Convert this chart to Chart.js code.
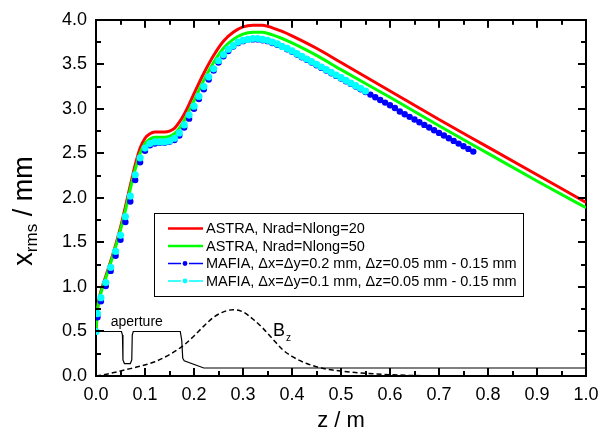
<!DOCTYPE html>
<html><head><meta charset="utf-8">
<script src="https://cdn.jsdelivr.net/npm/chart.js@4/dist/chart.umd.min.js"></script>
<style>html,body{margin:0;padding:0;background:#fff;} canvas{display:block;}</style>
</head><body>
<canvas id="c" width="615" height="435" style="width:615px;height:435px"></canvas>
<script>
// ---- data ----
const lineZ = [0, 0.003, 0.01, 0.02, 0.03, 0.04, 0.05, 0.06, 0.07, 0.08, 0.09, 0.10, 0.11, 0.12, 0.13, 0.14, 0.15, 0.16, 0.17, 0.18, 0.19, 0.20, 0.22, 0.24, 0.26, 0.28, 0.30, 0.32, 0.34, 0.36, 0.38, 0.40, 0.45, 0.50, 0.60, 0.70, 0.80, 0.90, 1.00];
const astra20 = [0.50, 0.75, 0.95, 1.12, 1.29, 1.47, 1.67, 1.90, 2.14, 2.37, 2.56, 2.67, 2.72, 2.74, 2.74, 2.74, 2.75, 2.78, 2.85, 2.94, 3.05, 3.17, 3.40, 3.60, 3.76, 3.86, 3.92, 3.94, 3.94, 3.91, 3.87, 3.82, 3.68, 3.52, 3.20, 2.88, 2.57, 2.26, 1.95];
const astra50 = [0.50, 0.74, 0.93, 1.10, 1.27, 1.45, 1.64, 1.86, 2.10, 2.32, 2.50, 2.61, 2.66, 2.68, 2.68, 2.68, 2.69, 2.72, 2.78, 2.87, 2.98, 3.09, 3.32, 3.52, 3.68, 3.78, 3.84, 3.86, 3.86, 3.83, 3.79, 3.74, 3.60, 3.44, 3.13, 2.81, 2.50, 2.19, 1.89];
const mafiaZ = [0, 0.003, 0.01, 0.02, 0.03, 0.04, 0.05, 0.06, 0.07, 0.08, 0.09, 0.10, 0.11, 0.12, 0.13, 0.14, 0.15, 0.16, 0.17, 0.18, 0.19, 0.20, 0.21, 0.22, 0.23, 0.24, 0.25, 0.26, 0.27, 0.28, 0.29, 0.30, 0.31, 0.32, 0.33, 0.34, 0.35, 0.36, 0.37, 0.38, 0.39, 0.40, 0.41, 0.42, 0.43, 0.44, 0.45, 0.46, 0.47, 0.48, 0.49, 0.50, 0.51, 0.52, 0.53, 0.54, 0.55, 0.56, 0.57, 0.58, 0.59, 0.60, 0.61, 0.62, 0.63, 0.64, 0.65, 0.66, 0.67, 0.68, 0.69, 0.70, 0.71, 0.72, 0.73, 0.74, 0.75, 0.76, 0.77];
const mafia02 = [0.50, 0.66, 0.84, 1.01, 1.18, 1.35, 1.53, 1.73, 1.96, 2.20, 2.40, 2.53, 2.59, 2.61, 2.62, 2.62, 2.63, 2.65, 2.70, 2.79, 2.89, 3.00, 3.11, 3.22, 3.33, 3.43, 3.52, 3.59, 3.65, 3.70, 3.74, 3.76, 3.78, 3.78, 3.78, 3.77, 3.76, 3.74, 3.72, 3.70, 3.67, 3.64, 3.61, 3.58, 3.55, 3.52, 3.49, 3.46, 3.43, 3.40, 3.37, 3.34, 3.31, 3.28, 3.25, 3.22, 3.19, 3.16, 3.13, 3.10, 3.07, 3.04, 3.01, 2.97, 2.94, 2.91, 2.88, 2.85, 2.82, 2.79, 2.76, 2.73, 2.70, 2.67, 2.64, 2.61, 2.58, 2.55, 2.52];
const mafia01 = [0.50, 0.70, 0.88, 1.05, 1.22, 1.40, 1.58, 1.79, 2.02, 2.26, 2.45, 2.56, 2.61, 2.63, 2.63, 2.63, 2.64, 2.67, 2.73, 2.82, 2.93, 3.03, 3.14, 3.25, 3.36, 3.45, 3.54, 3.61, 3.67, 3.71, 3.75, 3.77, 3.78, 3.79, 3.79, 3.78, 3.77, 3.75, 3.73, 3.70, 3.68, 3.65, 3.62, 3.59, 3.56, 3.53, 3.50, 3.47, 3.44, 3.41, 3.38, 3.35, 3.32, 3.29, 3.26, 3.23, 3.20];
const apertureZ = [0, 0.052, 0.054, 0.055, 0.058, 0.070, 0.073, 0.074, 0.076, 0.172, 0.175, 0.177, 0.180, 0.220, 1.0];
const apertureR = [0.50, 0.50, 0.46, 0.18, 0.14, 0.14, 0.18, 0.46, 0.50, 0.50, 0.40, 0.20, 0.17, 0.09, 0.09];
const bzZ = [0, 0.03, 0.06, 0.09, 0.12, 0.15, 0.18, 0.20, 0.22, 0.24, 0.26, 0.28, 0.30, 0.32, 0.34, 0.36, 0.38, 0.40, 0.43, 0.46, 0.50, 0.55, 0.60, 0.65, 0.70];
const bzVal = [0, 0.03, 0.07, 0.11, 0.16, 0.24, 0.35, 0.45, 0.56, 0.66, 0.72, 0.745, 0.72, 0.64, 0.54, 0.42, 0.30, 0.22, 0.14, 0.09, 0.055, 0.03, 0.015, 0.005, 0.0];
const seriesLabels = ['ASTRA, Nrad=Nlong=20', 'ASTRA, Nrad=Nlong=50', 'MAFIA, \u0394x=\u0394y=0.2 mm, \u0394z=0.05 mm - 0.15 mm', 'MAFIA, \u0394x=\u0394y=0.1 mm, \u0394z=0.05 mm - 0.15 mm'];
const xTickValues = [0, 0.05, 0.1, 0.15, 0.2, 0.25, 0.3, 0.35, 0.4, 0.45, 0.5, 0.55, 0.6, 0.65, 0.7, 0.75, 0.8, 0.85, 0.9, 0.95, 1.0];
const yTickValues = [0, 0.25, 0.5, 0.75, 1.0, 1.25, 1.5, 1.75, 2.0, 2.25, 2.5, 2.75, 3.0, 3.25, 3.5, 3.75, 4.0];
const xTickLabels = ['0.0', '0.1', '0.2', '0.3', '0.4', '0.5', '0.6', '0.7', '0.8', '0.9', '1.0'];
const yTickLabels = ['0.0', '0.5', '1.0', '1.5', '2.0', '2.5', '3.0', '3.5', '4.0'];

// ---- helpers ----
function pts(xs, ys) { return ys.map((y, i) => ({ x: xs[i], y: y })); }
const isMajX = v => Math.abs(v * 10 - Math.round(v * 10)) < 1e-6;
const isMajY = v => Math.abs(v * 2 - Math.round(v * 2)) < 1e-6;
const MAJ = 8, MIN = 5;
const FONT = '"Liberation Sans", Arial, sans-serif';
const border = { display: true, width: 2, color: '#000' };
const noGrid = { display: false, drawTicks: false, drawOnChartArea: false };

// inward major/minor tick marks on all four sides, positioned by the chart's scales
function paintTicks(chart) {
  const c = chart.ctx, a = chart.chartArea, xs = chart.scales.x, ys = chart.scales.y;
  const L = a.left, R = a.right, T = a.top, B = a.bottom;
  c.save();
  c.fillStyle = '#000000';
  for (let i = 0; i < xTickValues.length; i++) {
    const v = xTickValues[i];
    const p = Math.round(xs.getPixelForValue(v)), len = isMajX(v) ? MAJ : MIN;
    c.fillRect(p - 1, B - len, 2, len);
    c.fillRect(p - 1, T, 2, len);
  }
  for (let i = 0; i < yTickValues.length; i++) {
    const v = yTickValues[i];
    const p = Math.round(ys.getPixelForValue(v)), len = isMajY(v) ? MAJ : MIN;
    c.fillRect(L, p - 1, len, 2);
    c.fillRect(R - len, p - 1, len, 2);
  }
  c.restore();
}

const deco = {
  id: 'deco',
  afterDraw(chart) {
    paintTicks(chart);
    const c = chart.ctx, xs = chart.scales.x, ys = chart.scales.y, a = chart.chartArea;
    c.save();
    // legend
    c.lineWidth = 1; c.strokeStyle = '#000'; c.setLineDash([]);
    c.strokeRect(154.5, 213.5, 369, 83);
    const rows = [228.5, 246, 263.5, 281];
    for (let i = 0; i < 4; i++) {
      const ds = chart.data.datasets[i], y = rows[i];
      c.strokeStyle = ds.borderColor; c.fillStyle = ds.borderColor;
      c.beginPath();
      if (i < 2) {
        c.lineWidth = 2.5; c.moveTo(168, y); c.lineTo(203, y); c.stroke();
      } else {
        c.lineWidth = 1.5; c.moveTo(168, y); c.lineTo(181, y); c.moveTo(189, y); c.lineTo(203, y); c.stroke();
        c.beginPath(); c.arc(185, y, 2.4, 0, Math.PI * 2); c.fill();
      }
      c.fillStyle = '#000'; c.font = '14.5px ' + FONT; c.textBaseline = 'middle'; c.textAlign = 'left';
      c.fillText(ds.label, 206, y + 0.5);
    }
    // annotations
    c.fillStyle = '#000'; c.textBaseline = 'middle'; c.textAlign = 'left';
    c.font = '14px ' + FONT;
    c.fillText('aperture', xs.getPixelForValue(0.03), ys.getPixelForValue(0.61));
    c.font = '18px ' + FONT;
    const bx = xs.getPixelForValue(0.361), by = ys.getPixelForValue(0.51);
    c.fillText('B', bx, by);
    const bw = c.measureText('B').width;
    c.font = '10px ' + FONT;
    c.fillText('z', bx + bw + 1, by + 8);
    // x title
    c.font = '22px ' + FONT; c.textAlign = 'center'; c.textBaseline = 'middle';
    c.fillText('z / m', (a.left + a.right) / 2, 421);
    // y title (rotated, with subscript)
    c.translate(32, 211); c.rotate(-Math.PI / 2);
    c.textAlign = 'left'; c.textBaseline = 'alphabetic';
    c.font = '27px ' + FONT; const w1 = c.measureText('x').width;
    c.font = '17px ' + FONT; const w2 = c.measureText('rms').width;
    c.font = '27px ' + FONT; const w3 = c.measureText(' / mm').width;
    let x0 = -(w1 + w2 + w3) / 2;
    c.fillText('x', x0, 0);
    c.font = '17px ' + FONT; c.fillText('rms', x0 + w1, 5);
    c.font = '27px ' + FONT; c.fillText(' / mm', x0 + w1 + w2, 0);
    c.restore();
  }
};

new Chart(document.getElementById('c'), {
  type: 'line',
  data: {
    datasets: [
      { label: seriesLabels[0], data: pts(lineZ, astra20), borderColor: '#ff0000', backgroundColor: '#ff0000', borderWidth: 3, pointRadius: 0, cubicInterpolationMode: 'monotone', fill: false, order: 4 },
      { label: seriesLabels[1], data: pts(lineZ, astra50), borderColor: '#00ff00', backgroundColor: '#00ff00', borderWidth: 3, pointRadius: 0, cubicInterpolationMode: 'monotone', fill: false, order: 3 },
      { label: seriesLabels[2], data: pts(mafiaZ, mafia02), showLine: false, borderColor: '#0000ff', backgroundColor: '#0000ff', pointRadius: 3.2, pointBorderWidth: 0, pointBackgroundColor: '#0000ff', order: 2 },
      { label: seriesLabels[3], data: pts(mafiaZ, mafia01), showLine: false, borderColor: '#00ffff', backgroundColor: '#00ffff', pointRadius: 3.6, pointBorderWidth: 0, pointBackgroundColor: '#00ffff', order: 1 },
      { label: 'aperture', data: pts(apertureZ, apertureR), borderColor: '#000', borderWidth: 1.2, pointRadius: 0, tension: 0, fill: false, order: 5 },
      { label: 'Bz', data: pts(bzZ, bzVal), borderColor: '#000', borderWidth: 1.5, borderDash: [5, 3], pointRadius: 0, cubicInterpolationMode: 'monotone', fill: false, order: 6 }
    ]
  },
  options: {
    responsive: false, animation: false, devicePixelRatio: 1,
    layout: { padding: { top: 16, right: 29, left: 0, bottom: 0 } },
    plugins: { legend: { display: false }, tooltip: { enabled: false } },
    scales: {
      x: { type: 'linear', position: 'bottom', min: 0, max: 1,
        ticks: { stepSize: 0.05, autoSkip: false, maxRotation: 0, padding: 8, color: '#000', font: { family: FONT, size: 18 },
          callback: v => isMajX(v) ? xTickLabels[Math.round(v * 10)] : '' },
        grid: noGrid, border: border, afterFit: s => { s.height = 59; } },
      x2: { type: 'linear', position: 'top', min: 0, max: 1,
        ticks: { display: false }, grid: noGrid, border: border, afterFit: s => { s.height = 0; } },
      y: { type: 'linear', position: 'left', min: 0, max: 4,
        ticks: { stepSize: 0.25, autoSkip: false, padding: 9, color: '#000', font: { family: FONT, size: 18 },
          callback: v => isMajY(v) ? yTickLabels[Math.round(v * 2)] : '' },
        grid: noGrid, border: border, afterFit: s => { s.width = 96; } },
      y2: { type: 'linear', position: 'right', min: 0, max: 4,
        ticks: { display: false }, grid: noGrid, border: border, afterFit: s => { s.width = 0; } }
    }
  },
  plugins: [deco]
});
</script>
</body></html>
